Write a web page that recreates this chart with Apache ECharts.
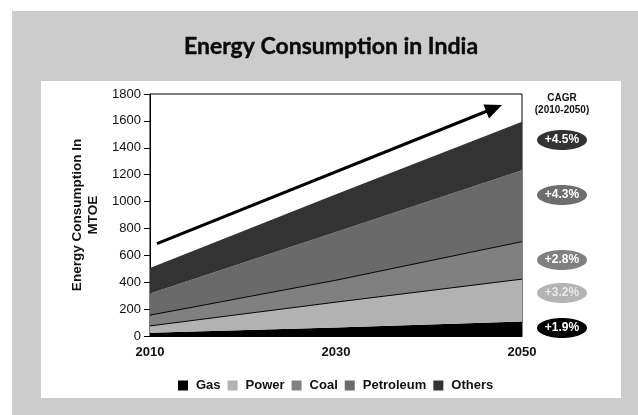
<!DOCTYPE html>
<html>
<head>
<meta charset="utf-8">
<script src="https://cdn.jsdelivr.net/npm/echarts@6/dist/echarts.min.js"></script>
<style>html,body{margin:0;padding:0;background:#fff}#c{width:638px;height:415px}</style>
</head>
<body>
<div id="c"></div>
<script>
const years = [2010, 2030, 2050];
const gas = [25, 64, 107];
const power = [50, 188, 316];
const coal = [80, 163, 279];
const petroleum = [161, 359, 530];
const others = [189, 281, 361];
const seriesNames = ['Gas', 'Power', 'Coal', 'Petroleum', 'Others'];
const seriesColors = ['#000000', '#b2b2b2', '#808080', '#6a6a6a', '#333333'];
const cagrLabels = ['+4.5%', '+4.3%', '+2.8%', '+3.2%', '+1.9%'];
const cagrColors = ['#333333', '#6e6e6e', '#808080', '#b4b4b4', '#000000'];
const cagrTextColors = ['#ffffff', '#ffffff', '#ffffff', '#e8e8e8', '#ffffff'];
const cagrY = [140, 195, 260, 293, 328];
const arrowFrom = [2010.75, 687];
const arrowTo = [2047, 1694];

const values = [gas, power, coal, petroleum, others];
const lineWidths = [0, 1, 1, 0, 0];

const FONT = 'Arial';

const series = seriesNames.map((name, i) => ({
  name: name,
  type: 'line',
  stack: 'total',
  data: values[i],
  symbol: 'none',
  showSymbol: false,
  areaStyle: { color: seriesColors[i], opacity: 1 },
  lineStyle: { color: '#000', width: lineWidths[i] },
  itemStyle: { color: seriesColors[i] },
  z: 2
}));

series.push({
  name: 'arrow',
  type: 'line',
  xAxisIndex: 1,
  data: [],
  symbol: 'none',
  z: 5,
  markLine: {
    silent: true,
    symbol: ['none', 'triangle'],
    symbolSize: [15, 17],
    label: { show: false },
    lineStyle: { color: '#000', width: 3, type: 'solid' },
    data: [[{ coord: arrowFrom }, { coord: arrowTo }]]
  }
});

const graphic = [
  { type: 'rect', z: -20, silent: true, shape: { x: 12, y: 11, width: 626, height: 404 }, style: { fill: '#cccccc' } },
  { type: 'rect', z: -19, silent: true, shape: { x: 41, y: 81, width: 580, height: 317 }, style: { fill: '#ffffff' } },
  { type: 'text', z: 10, x: 331, y: 47, style: { text: 'Energy Consumption in India', font: 'bold 23px Lato', fill: '#0a0a0a', stroke: '#0a0a0a', lineWidth: 0.4, textAlign: 'center', textVerticalAlign: 'middle' } },
  { type: 'text', z: 10, x: 562, y: 98, style: { text: 'CAGR', font: 'bold 10px ' + FONT, fill: '#111', textAlign: 'center', textVerticalAlign: 'middle' } },
  { type: 'text', z: 10, x: 562, y: 110, style: { text: '(2010-2050)', font: 'bold 10px ' + FONT, fill: '#111', textAlign: 'center', textVerticalAlign: 'middle' } }
];
cagrLabels.forEach((t, i) => {
  graphic.push({ type: 'ellipse', z: 10, shape: { cx: 562, cy: cagrY[i], rx: 25, ry: 10 }, style: { fill: cagrColors[i] } });
  graphic.push({ type: 'text', z: 11, x: 562, y: cagrY[i], style: { text: t, font: 'bold 12px ' + FONT, fill: cagrTextColors[i], textAlign: 'center', textVerticalAlign: 'middle' } });
});

const chart = echarts.init(document.getElementById('c'), null, { renderer: 'canvas' });
chart.setOption({
  backgroundColor: '#ffffff',
  animation: false,
  graphic: graphic,
  legend: {
    data: seriesNames,
    left: 173,
    top: 374,
    icon: 'rect',
    itemWidth: 10,
    itemHeight: 10,
    itemGap: 7,
    textStyle: { fontFamily: FONT, fontWeight: 'bold', fontSize: 13, color: '#111', padding: [0, 0, 0, 3] }
  },
  grid: {
    left: 150, right: 116, top: 94, bottom: 79,
    show: true, borderColor: '#000', borderWidth: 1, backgroundColor: 'transparent'
  },
  xAxis: [{
    type: 'category', data: years.map(String), boundaryGap: false,
    axisLine: { show: true, lineStyle: { color: '#000' } },
    axisTick: { show: false },
    splitLine: { show: false },
    axisLabel: { fontFamily: FONT, fontWeight: 'bold', fontSize: 13, color: '#111', margin: 10 }
  }, {
    type: 'value', min: 2010, max: 2050, show: false
  }],
  yAxis: {
    type: 'value', min: 0, max: 1800, interval: 200,
    name: 'Energy Consumption In\nMTOE',
    nameLocation: 'middle',
    nameGap: 40,
    nameTextStyle: { fontFamily: FONT, fontWeight: 'bold', fontSize: 13.5, color: '#111', lineHeight: 16 },
    axisLine: { show: true, lineStyle: { color: '#000' } },
    axisTick: { show: true, inside: false, length: 6, lineStyle: { color: '#000' } },
    splitLine: { show: false },
    axisLabel: { fontFamily: FONT, fontSize: 13, color: '#111', margin: 9, formatter: v => String(v) }
  },
  series: series
});
</script>
</body>
</html>
